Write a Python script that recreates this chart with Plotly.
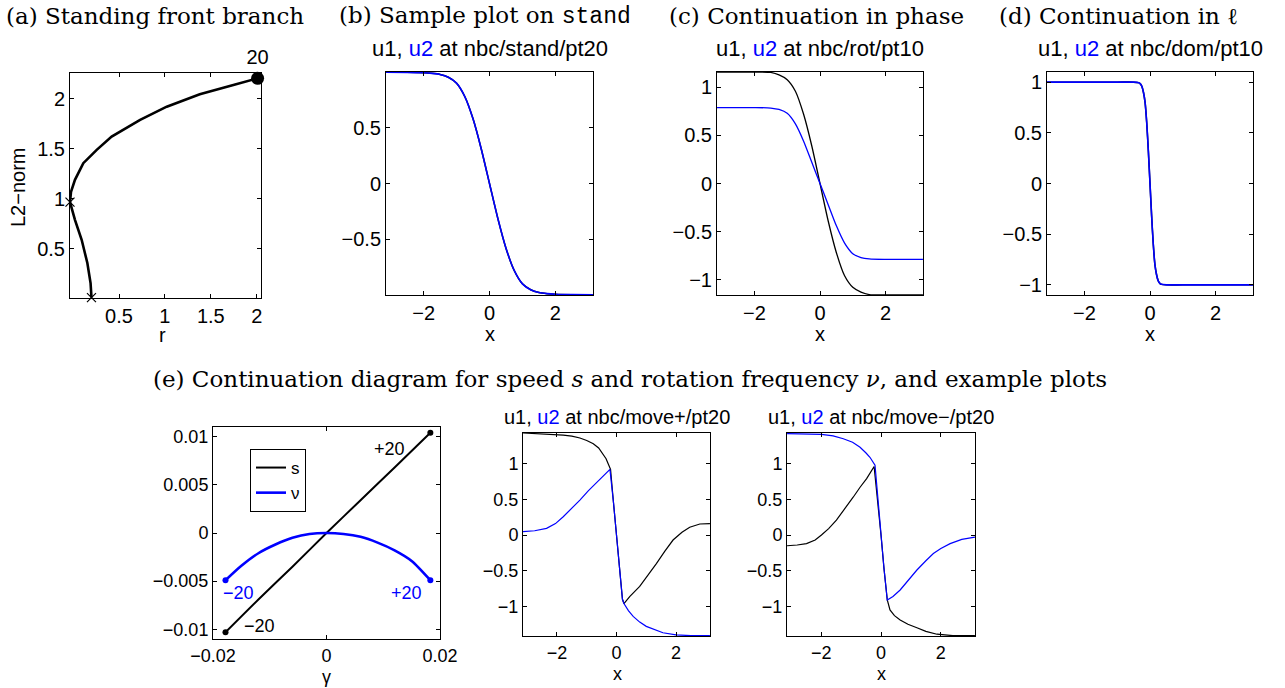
import plotly.graph_objects as go

W, H = 1285, 688

# ---------------- data ----------------
# (a) standing front branch
a_r = [0.20, 0.19, 0.155, 0.093, 0.02, -0.023, -0.034, -0.023, 0.02, 0.111, 0.257, 0.42, 0.73, 1.02, 1.38, 1.746, 2.01]
a_L2 = [0.01, 0.157, 0.357, 0.59, 0.79, 0.92, 0.967, 1.07, 1.19, 1.357, 1.49, 1.623, 1.79, 1.923, 2.047, 2.14, 2.207]
a_cross_r = [0.20, -0.034]
a_cross_L2 = [0.01, 0.967]
a_end_r = [2.01]
a_end_L2 = [2.207]
a_end_label = ["20"]

# (b) sample plot on stand
b_x = [-3.14, -2.5, -2.0, -1.75, -1.5, -1.25, -1.0, -0.75, -0.5, -0.25, 0.0, 0.25, 0.5, 0.75, 1.0, 1.25, 1.5, 1.75, 2.0, 2.5, 3.14]
b_u1 = [0.998, 0.997, 0.993, 0.988, 0.978, 0.953, 0.9, 0.78, 0.58, 0.31, 0.0, -0.31, -0.58, -0.78, -0.9, -0.953, -0.978, -0.988, -0.993, -0.997, -0.998]
b_u2 = [0.998, 0.997, 0.993, 0.988, 0.978, 0.953, 0.9, 0.78, 0.58, 0.31, 0.0, -0.31, -0.58, -0.78, -0.9, -0.953, -0.978, -0.988, -0.993, -0.997, -0.998]

# (c) continuation in phase
c_x = [-3.14, -2.5, -2.0, -1.5, -1.25, -1.0, -0.75, -0.5, -0.25, 0.0, 0.25, 0.5, 0.75, 1.0, 1.25, 1.5, 2.0, 2.5, 3.14]
c_u1 = [1.16, 1.16, 1.16, 1.155, 1.13, 1.08, 0.96, 0.72, 0.39, 0.0, -0.39, -0.72, -0.96, -1.08, -1.13, -1.155, -1.16, -1.16, -1.16]
c_u2 = [0.79, 0.79, 0.79, 0.785, 0.77, 0.73, 0.62, 0.44, 0.22, 0.0, -0.22, -0.44, -0.62, -0.73, -0.77, -0.785, -0.79, -0.79, -0.79]

# (d) continuation in l
d_x = [-3.14, -2.0, -1.0, -0.5, -0.35, -0.3, -0.25, -0.2, -0.15, -0.1, -0.05, 0.0, 0.05, 0.1, 0.15, 0.2, 0.25, 0.3, 0.35, 0.5, 1.0, 2.0, 3.14]
d_u1 = [1.0, 1.0, 1.0, 1.0, 0.995, 0.985, 0.96, 0.9, 0.8, 0.6, 0.32, 0.0, -0.32, -0.6, -0.8, -0.9, -0.96, -0.985, -0.995, -1.0, -1.0, -1.0, -1.0]
d_u2 = [1.0, 1.0, 1.0, 1.0, 0.995, 0.985, 0.96, 0.9, 0.8, 0.6, 0.32, 0.0, -0.32, -0.6, -0.8, -0.9, -0.96, -0.985, -0.995, -1.0, -1.0, -1.0, -1.0]

# (e) continuation diagram: speed s and rotation frequency nu vs gamma
e_gamma_s = [-0.0178, -0.012, -0.006, 0.0, 0.006, 0.012, 0.0183]
e_s = [-0.0103, -0.0069, -0.0035, 0.0, 0.0034, 0.0068, 0.0104]
e_gamma_nu = [-0.0178, -0.015, -0.012, -0.009, -0.006, -0.003, 0.0, 0.003, 0.006, 0.009, 0.012, 0.015, 0.0183]
e_nu = [-0.0049, -0.0034, -0.0021, -0.0012, -0.0005, -0.0001, 0.0, -0.0001, -0.0004, -0.001, -0.0018, -0.0029, -0.0049]
e_s_end_labels = ["−20", "+20"]
e_nu_end_labels = ["−20", "+20"]

# (e) move+ profile
mp_x1 = [-3.14, -2.5, -2.1, -1.79, -1.5, -1.23, -1.0, -0.78, -0.6, -0.45, -0.35, -0.28, -0.2, -0.1, 0.0, 0.1, 0.2, 0.25, 0.45, 0.78, 1.05, 1.34, 1.62, 1.9, 2.2, 2.46, 2.8, 3.14]
mp_u1 = [1.43, 1.42, 1.41, 1.40, 1.385, 1.36, 1.325, 1.28, 1.22, 1.14, 1.07, 1.0, 0.92, 0.45, 0.0, -0.45, -0.9, -0.96, -0.86, -0.72, -0.57, -0.40, -0.23, -0.07, 0.04, 0.11, 0.155, 0.16]
mp_x2 = [-3.14, -2.75, -2.35, -2.05, -1.79, -1.5, -1.23, -0.95, -0.67, -0.45, -0.22, -0.1, 0.0, 0.1, 0.2, 0.25, 0.4, 0.56, 0.78, 1.0, 1.28, 1.56, 2.0, 2.5, 3.14]
mp_u2 = [0.047, 0.06, 0.093, 0.16, 0.256, 0.37, 0.49, 0.62, 0.74, 0.83, 0.92, 0.45, 0.0, -0.45, -0.9, -0.96, -1.06, -1.14, -1.22, -1.28, -1.33, -1.37, -1.40, -1.41, -1.41]

# (e) move- profile
mm_x1 = [-3.14, -2.8, -2.49, -2.2, -1.99, -1.75, -1.49, -1.2, -0.93, -0.7, -0.48, -0.23, -0.1, 0.0, 0.1, 0.21, 0.3, 0.45, 0.64, 0.9, 1.2, 1.5, 1.87, 2.4, 3.14]
mm_u1 = [-0.15, -0.14, -0.12, -0.07, 0.0, 0.09, 0.21, 0.37, 0.53, 0.67, 0.79, 0.96, 0.47, 0.0, -0.47, -0.91, -1.05, -1.13, -1.19, -1.25, -1.30, -1.35, -1.39, -1.41, -1.41]
mm_x2 = [-3.14, -2.5, -1.99, -1.6, -1.26, -0.95, -0.70, -0.5, -0.37, -0.2, -0.1, 0.0, 0.1, 0.21, 0.4, 0.64, 0.9, 1.2, 1.5, 1.75, 2.0, 2.31, 2.7, 3.14]
mm_u2 = [1.42, 1.42, 1.41, 1.39, 1.35, 1.30, 1.23, 1.15, 1.09, 0.98, 0.47, 0.0, -0.47, -0.91, -0.86, -0.77, -0.64, -0.49, -0.36, -0.26, -0.19, -0.12, -0.06, -0.03]

# tick labels
a_xticks = [0.5, 1, 1.5, 2]
a_xtext = ["0.5", "1", "1.5", "2"]
a_yticks = [0.5, 1, 1.5, 2]
a_ytext = ["0.5", "1", "1.5", "2"]
x_pi_ticks = [-2, 0, 2]
x_pi_text = ["−2", "0", "2"]
b_yticks = [-0.5, 0, 0.5]
b_ytext = ["−0.5", "0", "0.5"]
u_yticks = [-1, -0.5, 0, 0.5, 1]
u_ytext = ["−1", "−0.5", "0", "0.5", "1"]
e_xticks = [-0.02, 0, 0.02]
e_xtext = ["−0.02", "0", "0.02"]
e_yticks = [-0.01, -0.005, 0, 0.005, 0.01]
e_ytext = ["−0.01", "−0.005", "0", "0.005", "0.01"]

BLUE = "#0000ff"
SANS = "Liberation Sans"
SERIF = "DejaVu Serif"

def fx(px):
    return px / W

def fy(py):
    return 1 - py / H

# pixel boxes: (left, right, top, bottom)
boxes = {
    1: (70, 261, 73, 298),
    2: (386, 593, 72, 295),
    3: (717, 923, 72, 295),
    4: (1047, 1253, 72, 295),
    5: (213, 440, 427, 639),
    6: (523, 710, 433, 636),
    7: (787, 975, 433, 636),
}
ranges = {
    1: ([-0.034, 2.047], [0.007, 2.26]),
    2: ([-3.1416, 3.1416], [-1.0, 1.0]),
    3: ([-3.1416, 3.1416], [-1.16, 1.16]),
    4: ([-3.1416, 3.1416], [-1.1, 1.1]),
    5: ([-0.02, 0.02], [-0.011, 0.011]),
    6: ([-3.1416, 3.1416], [-1.415, 1.43]),
    7: ([-3.1416, 3.1416], [-1.415, 1.43]),
}
ticks = {
    1: (a_xticks, a_xtext, a_yticks, a_ytext),
    2: (x_pi_ticks, x_pi_text, b_yticks, b_ytext),
    3: (x_pi_ticks, x_pi_text, u_yticks, u_ytext),
    4: (x_pi_ticks, x_pi_text, u_yticks, u_ytext),
    5: (e_xticks, e_xtext, e_yticks, e_ytext),
    6: (x_pi_ticks, x_pi_text, u_yticks, u_ytext),
    7: (x_pi_ticks, x_pi_text, u_yticks, u_ytext),
}

fig = go.Figure()

def sfx(i):
    return "" if i == 1 else str(i)

def add_line(i, x, y, color, width, name=None, showlegend=False, shape="spline"):
    fig.add_trace(go.Scatter(x=x, y=y, mode="lines",
                             line=dict(color=color, width=width, shape=shape, smoothing=0.7),
                             xaxis="x" + sfx(i), yaxis="y" + sfx(i), name=name,
                             showlegend=showlegend, hoverinfo="skip", cliponaxis=True))

# (a)
add_line(1, a_r, a_L2, "black", 2.6, shape="linear")
fig.add_trace(go.Scatter(x=a_cross_r, y=a_cross_L2, mode="markers",
                         marker=dict(symbol="x-thin", size=9, line=dict(color="black", width=1.2)),
                         xaxis="x", yaxis="y", showlegend=False, cliponaxis=False))
fig.add_trace(go.Scatter(x=a_end_r, y=a_end_L2, mode="markers+text", text=a_end_label,
                         textposition="top center", textfont=dict(family=SANS, size=20, color="black"),
                         marker=dict(symbol="circle", size=13, color="black"),
                         xaxis="x", yaxis="y", showlegend=False, cliponaxis=False))
# (b)
add_line(2, b_x, b_u1, "black", 1.5)
add_line(2, b_x, b_u2, BLUE, 1.6)
# (c)
add_line(3, c_x, c_u1, "black", 1.3)
add_line(3, c_x, c_u2, BLUE, 1.3)
# (d)
add_line(4, d_x, d_u1, "black", 1.5)
add_line(4, d_x, d_u2, BLUE, 1.6)
# (e) diagram
add_line(5, e_gamma_s, e_s, "black", 2.0, name="s", showlegend=True)
add_line(5, e_gamma_nu, e_nu, BLUE, 2.6, name="ν", showlegend=True)
fig.add_trace(go.Scatter(x=[e_gamma_s[0], e_gamma_s[-1]], y=[e_s[0], e_s[-1]], mode="markers",
                         marker=dict(size=6, color="black"), xaxis="x5", yaxis="y5",
                         showlegend=False, cliponaxis=False))
fig.add_trace(go.Scatter(x=[e_gamma_nu[0], e_gamma_nu[-1]], y=[e_nu[0], e_nu[-1]], mode="markers",
                         marker=dict(size=6, color=BLUE), xaxis="x5", yaxis="y5",
                         showlegend=False, cliponaxis=False))
# (e) move+
add_line(6, mp_x1, mp_u1, "black", 1.2, shape="linear")
add_line(6, mp_x2, mp_u2, BLUE, 1.2, shape="linear")
# (e) move-
add_line(7, mm_x1, mm_u1, "black", 1.2, shape="linear")
add_line(7, mm_x2, mm_u2, BLUE, 1.2, shape="linear")

layout = dict(
    width=W, height=H, margin=dict(l=0, r=0, t=0, b=0, pad=0, autoexpand=False),
    paper_bgcolor="white", plot_bgcolor="white", showlegend=True,
    legend=dict(x=fx(250), y=fy(449), xanchor="left", yanchor="top",
                bordercolor="black", borderwidth=1, bgcolor="white",
                font=dict(family=SANS, size=17, color="black"),
                itemwidth=30, tracegroupgap=0),
)
for i, (l, r, t, b) in boxes.items():
    fs = 20 if i <= 4 else 18
    xt, xtt, yt, ytt = ticks[i]
    common = dict(showgrid=False, zeroline=False, showline=True, linecolor="black", linewidth=1,
                  mirror="ticks", ticks="inside", ticklen=4, tickwidth=1, tickcolor="black",
                  tickfont=dict(family=SANS, size=fs, color="black"), tickmode="array",
                  automargin=False)
    layout["xaxis" + sfx(i)] = dict(common, domain=[fx(l), fx(r)], range=ranges[i][0],
                                    tickvals=xt, ticktext=xtt, anchor="y" + sfx(i))
    layout["yaxis" + sfx(i)] = dict(common, domain=[fy(b), fy(t)], range=ranges[i][1],
                                    tickvals=yt, ticktext=ytt, anchor="x" + sfx(i))
fig.update_layout(**layout)

ann = []
def text_px(x, y, s, size, family=SANS, color="black", xanchor="center", angle=0):
    ann.append(dict(x=fx(x), y=fy(y), xref="paper", yref="paper", text=s, showarrow=False,
                    xanchor=xanchor, yanchor="middle", textangle=angle,
                    font=dict(family=family, size=size, color=color)))

# headers
HS = 23
text_px(4, 16, "(a) Standing front branch", HS, SERIF, xanchor="left")
text_px(337, 16, "(b) Sample plot on <span style='font-family:Liberation Mono'>stand</span>", HS, SERIF, xanchor="left")
text_px(667, 16, "(c) Continuation in phase", HS, SERIF, xanchor="left")
text_px(997, 16, "(d) Continuation in ℓ", HS, SERIF, xanchor="left")
text_px(630, 379, "(e) Continuation diagram for speed <i>s</i> and rotation frequency <i>ν</i>, and example plots", HS, SERIF)

# subtitles
sub = "u1, <span style='color:#0000ff'>u2</span> at nbc/%s"
text_px(489.5, 48, sub % "stand/pt20", 22)
text_px(820, 48, sub % "rot/pt10", 22)
text_px(1150, 48, sub % "dom/pt10", 22)
text_px(617, 417, sub % "move+/pt20", 20)
text_px(881, 417, sub % "move−/pt20", 20)

# axis titles
text_px(162, 335, "r", 20)
text_px(18, 187, "L2−norm", 20, angle=-90)
text_px(489.5, 334, "x", 20)
text_px(820, 334, "x", 20)
text_px(1150, 334, "x", 20)
text_px(326, 677, "γ", 18)
text_px(617, 674, "x", 18)
text_px(881, 674, "x", 18)

# curve labels in (e) diagram
def text_data(x, y, s, color):
    ann.append(dict(x=x, y=y, xref="x5", yref="y5", text=s, showarrow=False,
                    font=dict(family=SANS, size=18, color=color)))
text_data(0.0111, 0.0087, e_s_end_labels[1], "black")
text_data(-0.0118, -0.0097, e_s_end_labels[0], "black")
text_data(-0.0155, -0.0062, e_nu_end_labels[0], BLUE)
text_data(0.0141, -0.0062, e_nu_end_labels[1], BLUE)

fig.update_layout(annotations=ann)
fig.write_html("out.html", config={"displayModeBar": False},
               post_script="document.body.style.margin='0px';document.body.style.padding='0px';"
                           "document.body.style.overflow='hidden';")
